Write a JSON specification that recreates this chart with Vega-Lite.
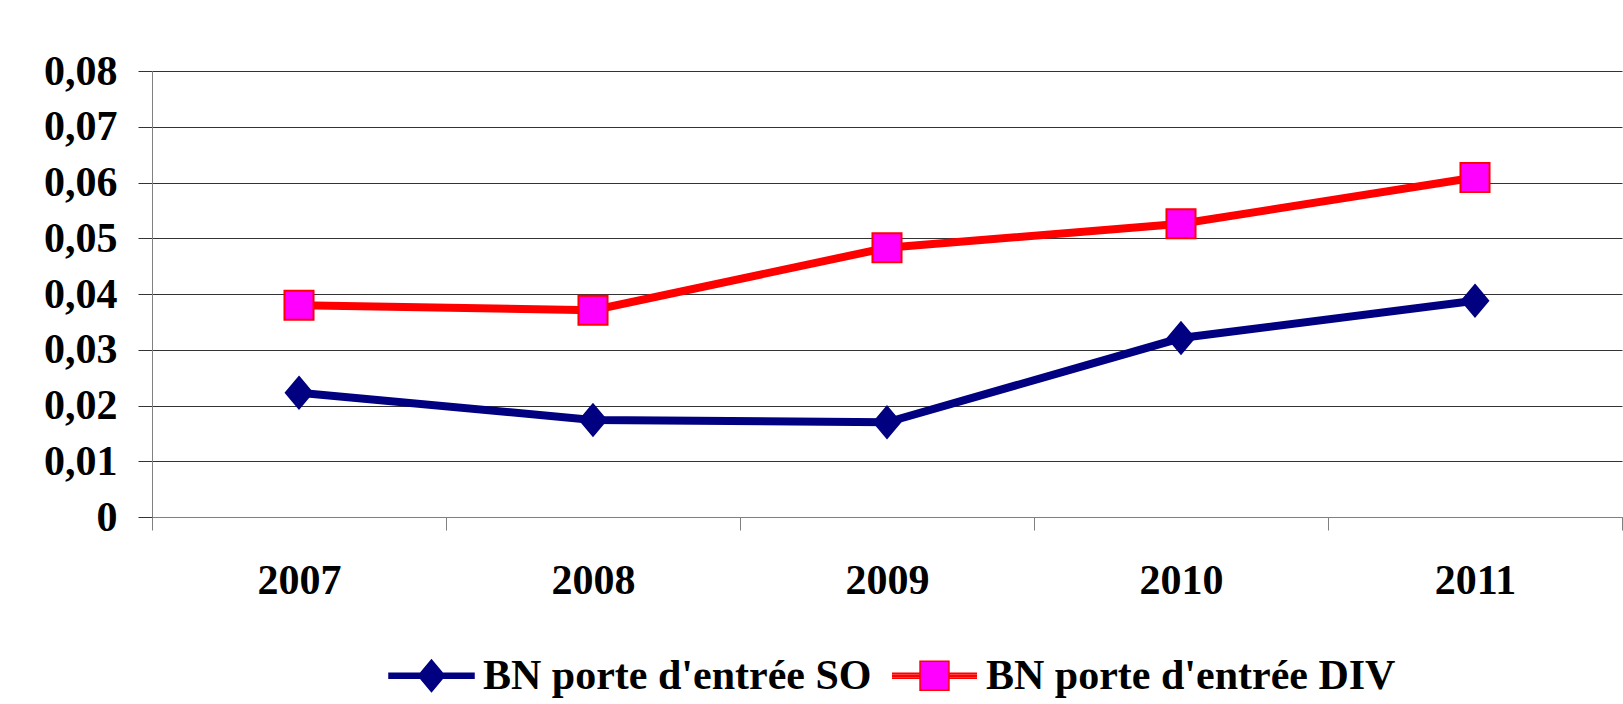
{
  "$schema": "https://vega.github.io/schema/vega-lite/v6.json",
  "autosize": {"type": "none"},
  "width": 1470,
  "height": 446,
  "padding": {"left": 152, "top": 71, "right": 1, "bottom": 187},
  "background": "white",
  "config": {
    "view": {"stroke": null},
    "font": "Liberation Serif"
  },
  "data": {
    "values": [
      {"year": "2007", "series": "BN porte d'entrée SO", "value": 0.0223},
      {"year": "2008", "series": "BN porte d'entrée SO", "value": 0.0174},
      {"year": "2009", "series": "BN porte d'entrée SO", "value": 0.0170},
      {"year": "2010", "series": "BN porte d'entrée SO", "value": 0.0321},
      {"year": "2011", "series": "BN porte d'entrée SO", "value": 0.0388},
      {"year": "2007", "series": "BN porte d'entrée DIV", "value": 0.0380},
      {"year": "2008", "series": "BN porte d'entrée DIV", "value": 0.0371},
      {"year": "2009", "series": "BN porte d'entrée DIV", "value": 0.0483},
      {"year": "2010", "series": "BN porte d'entrée DIV", "value": 0.0526},
      {"year": "2011", "series": "BN porte d'entrée DIV", "value": 0.0609}
    ]
  },
  "encoding": {
    "x": {
      "field": "year", "type": "ordinal",
      "scale": {"paddingInner": 0, "paddingOuter": 0},
      "axis": {
        "title": null, "labelAngle": 0, "tickBand": "extent",
        "domainColor": "#808080", "domainWidth": 1,
        "tickColor": "#808080", "tickSize": 13, "tickWidth": 1,
        "labelFont": "Liberation Serif", "labelFontSize": 42, "labelFontWeight": "bold",
        "labelColor": "black", "labelPadding": 30, "grid": false
      }
    },
    "y": {
      "field": "value", "type": "quantitative",
      "scale": {"domain": [0, 0.08], "nice": false, "zero": true},
      "axis": {
        "title": null,
        "values": [0, 0.01, 0.02, 0.03, 0.04, 0.05, 0.06, 0.07, 0.08],
        "labelExpr": "datum.value == 0 ? '0' : replace(format(datum.value, '.2f'), '.', ',')",
        "domainColor": "#808080", "domainWidth": 1,
        "tickColor": "#333333", "tickSize": 14, "tickWidth": 1,
        "gridColor": "#333333", "gridWidth": 1, "grid": true,
        "labelFont": "Liberation Serif", "labelFontSize": 42, "labelFontWeight": "bold",
        "labelColor": "black", "labelPadding": 21
      }
    }
  },
  "resolve": {
    "scale": {"shape": "independent", "fill": "independent", "stroke": "independent", "color": "independent"},
    "legend": {"shape": "independent", "fill": "independent", "stroke": "independent", "color": "independent"}
  },
  "layer": [
    {
      "mark": {"type": "line", "strokeWidth": 8},
      "encoding": {
        "color": {
          "field": "series", "type": "nominal",
          "scale": {"domain": ["BN porte d'entrée SO", "BN porte d'entrée DIV"], "range": ["#000080", "#ff0000"]},
          "legend": null
        }
      }
    },
    {
      "mark": {"type": "point", "filled": true, "size": 1089, "strokeWidth": 2, "opacity": 1},
      "encoding": {
        "shape": {
          "field": "series", "type": "nominal",
          "scale": {"domain": ["BN porte d'entrée SO", "BN porte d'entrée DIV"], "range": ["M0,-0.95L0.8,0L0,0.95L-0.8,0Z", "M-0.88,-0.88L0.88,-0.88L0.88,0.88L-0.88,0.88Z"]},
          "legend": null
        },
        "fill": {
          "field": "series", "type": "nominal",
          "scale": {"domain": ["BN porte d'entrée SO", "BN porte d'entrée DIV"], "range": ["#000080", "#ff00ff"]},
          "legend": null
        },
        "stroke": {
          "field": "series", "type": "nominal",
          "scale": {"domain": ["BN porte d'entrée SO", "BN porte d'entrée DIV"], "range": ["#000080", "#ff0000"]},
          "legend": null
        }
      }
    },
    {
      "transform": [{"filter": "false"}],
      "mark": {"type": "point", "filled": true, "strokeWidth": 2, "opacity": 1},
      "encoding": {
        "shape": {
          "field": "series", "type": "nominal",
          "scale": {"domain": ["BN porte d'entrée SO", "BN porte d'entrée DIV"], "range": ["M-1,-0.06L1,-0.06L1,0.06L-1,0.06ZM0,-0.37L0.31,0L0,0.37L-0.31,0Z", "M-1,-0.06L-0.35,-0.06M-1,-0.02L-0.35,-0.02M-1,0.02L-0.35,0.02M-1,0.06L-0.35,0.06M0.35,-0.06L1,-0.06M0.35,-0.02L1,-0.02M0.35,0.02L1,0.02M0.35,0.06L1,0.06M-0.34,-0.34L0.34,-0.34L0.34,0.34L-0.34,0.34Z"]},
          "legend": {
            "orient": "none", "legendX": 236, "legendY": 561,
            "direction": "horizontal", "title": null, "padding": 0,
            "labelFont": "Liberation Serif", "labelFontSize": 42, "labelFontWeight": "bold",
            "labelColor": "black", "labelLimit": 0, "labelOffset": 8,
            "columnPadding": 17, "symbolSize": 7225
          }
        },
        "fill": {
          "field": "series", "type": "nominal",
          "scale": {"domain": ["BN porte d'entrée SO", "BN porte d'entrée DIV"], "range": ["#000080", "#ff00ff"]},
          "legend": {
            "orient": "none", "legendX": 236, "legendY": 561,
            "direction": "horizontal", "title": null, "padding": 0,
            "labelFont": "Liberation Serif", "labelFontSize": 42, "labelFontWeight": "bold",
            "labelColor": "black", "labelLimit": 0, "labelOffset": 8,
            "columnPadding": 17, "symbolSize": 7225
          }
        },
        "stroke": {
          "field": "series", "type": "nominal",
          "scale": {"domain": ["BN porte d'entrée SO", "BN porte d'entrée DIV"], "range": ["#000080", "#ff0000"]},
          "legend": {
            "orient": "none", "legendX": 236, "legendY": 561,
            "direction": "horizontal", "title": null, "padding": 0,
            "labelFont": "Liberation Serif", "labelFontSize": 42, "labelFontWeight": "bold",
            "labelColor": "black", "labelLimit": 0, "labelOffset": 8,
            "columnPadding": 17, "symbolSize": 7225
          }
        }
      }
    }
  ]
}
